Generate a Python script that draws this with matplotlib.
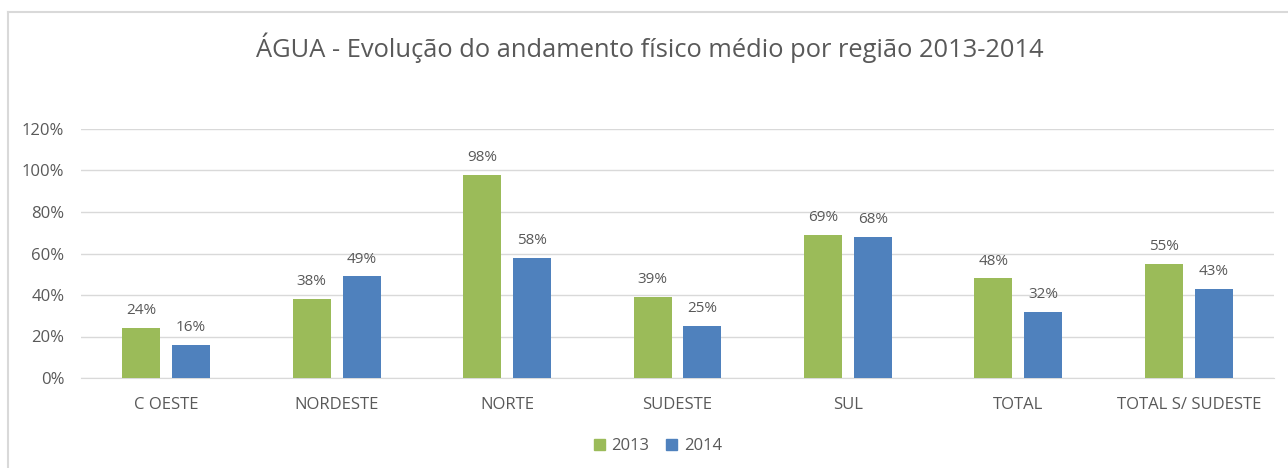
import numpy as np
import matplotlib
matplotlib.use("Agg")
import matplotlib.pyplot as plt
from matplotlib.lines import Line2D

# data
regioes = ["C OESTE", "NORDESTE", "NORTE", "SUDESTE", "SUL", "TOTAL", "TOTAL S/ SUDESTE"]
anos = ["2013", "2014"]
v2013 = [24, 38, 98, 39, 69, 48, 55]
v2014 = [16, 49, 58, 25, 68, 32, 43]
yticks = [0, 20, 40, 60, 80, 100, 120]

verde = "#9BBB59"
azul = "#4F81BD"
cinza = "#595959"
grade = "#D9D9D9"

plt.rcParams['font.family'] = ['Open Sans', 'DejaVu Sans']

W, H = 1288, 468
fig = plt.figure(figsize=(W / 100, H / 100), dpi=100)
ax = fig.add_axes([81 / W, 1 - 378 / H, (1274 - 81) / W, (378 - 129) / H])

x = np.arange(len(regioes))
larg = 0.223
desl = 0.146
b1 = ax.bar(x - desl, v2013, larg, color=verde, zorder=3, label=anos[0])
b2 = ax.bar(x + desl, v2014, larg, color=azul, zorder=3, label=anos[1])

for bars, vals in ((b1, v2013), (b2, v2014)):
    for b, v in zip(bars, vals):
        ax.annotate(f"{v}%", (b.get_x() + b.get_width() / 2, v),
                    xytext=(0, 7), textcoords="offset points",
                    ha="center", va="bottom", fontsize=11, color=cinza)

ax.set_xlim(-0.5, len(regioes) - 0.5)
ax.set_ylim(0, 120)
ax.set_yticks(yticks)
ax.set_yticklabels([f"{t}%" for t in yticks], fontsize=12, color=cinza)
ax.set_xticks(x)
ax.set_xticklabels(regioes, fontsize=12, color=cinza)
ax.tick_params(axis="both", length=0)
ax.tick_params(axis="y", pad=12)
ax.tick_params(axis="x", pad=14)
ax.yaxis.grid(True, color=grade, linewidth=1, zorder=0)
for s in ("top", "right", "left"):
    ax.spines[s].set_visible(False)
ax.spines["bottom"].set_color(grade)
ax.spines["bottom"].set_zorder(1)

fig.text(650 / W, 1 - 48 / H, "ÁGUA - Evolução do andamento físico médio por região 2013-2014",
         ha="center", va="center", fontsize=18.4, color=cinza)

handles = [plt.Rectangle((0, 0), 1, 1, color=verde), plt.Rectangle((0, 0), 1, 1, color=azul)]
fig.legend(handles, anos, loc="center", bbox_to_anchor=(658 / W, 1 - 446 / H), ncol=2,
           frameon=False, fontsize=12, labelcolor=cinza, handlelength=0.65, handleheight=0.65,
           handletextpad=0.4, columnspacing=1.0)

# moldura do grafico (borda cinza)
fig.add_artist(Line2D([8 / W, 1], [1 - 12 / H, 1 - 12 / H], color=grade, linewidth=1.5))
fig.add_artist(Line2D([8 / W, 8 / W], [0, 1 - 12 / H], color=grade, linewidth=1.5))

fig.savefig("out.png", dpi=100)
